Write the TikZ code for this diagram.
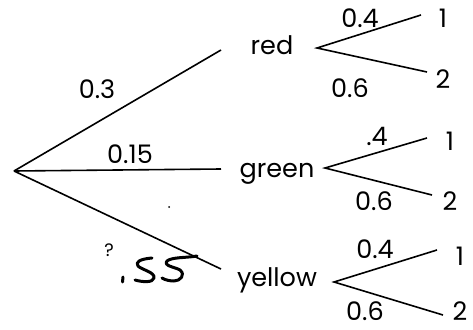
\documentclass[tikz,border=0pt]{standalone}
\usepackage{fontspec}
\setmainfont{Poppins}
\begin{document}
\begin{tikzpicture}[x=1pt,y=-1pt,
  br/.style={line width=1.6pt,black},
  lbl/.style={font=\fontsize{25.5}{25.5}\selectfont,inner sep=0pt,anchor=base},
  hand/.style={line width=3pt,line cap=round,line join=round}]
\useasboundingbox (0,0) rectangle (473,329);
% coordinates
\coordinate (root) at (14,171);
\coordinate (rE) at (221,50);
\coordinate (gE) at (221,169);
\coordinate (yE) at (221,269);
\coordinate (rV) at (317,48);
\coordinate (r1) at (421,15);
\coordinate (r2) at (427,72);
\coordinate (gV) at (325,168);
\coordinate (g1) at (427,138);
\coordinate (g2) at (432,195);
\coordinate (yV) at (334,282);
\coordinate (y1) at (437,250);
\coordinate (y2) at (443,315);
% branches
\draw[br] (root) -- (rE);
\draw[br] (root) -- (gE);
\draw[br] (root) -- (yE);
\draw[br] (r1) -- (rV) -- (r2);
\draw[br] (g1) -- (gV) -- (g2);
\draw[br] (y1) -- (yV) -- (y2);
% labels
\node[lbl] (tred) at (272,55) {red};
\node[lbl] (tgreen) at (277,177) {green};
\node[lbl] (tyellow) at (277,286) {yellow};
\node[lbl] (p03) at (97,98) {0.3};
\node[lbl] (p015) at (130,163) {0.15};
\node[lbl] (pr4) at (360,28) {0.4};
\node[lbl] (pr6) at (350,97) {0.6};
\node[lbl] (pg4) at (377,145) {.4};
\node[lbl] (pg6) at (374,210) {0.6};
\node[lbl] (py4) at (375,258) {0.4};
\node[lbl] (py6) at (365,320) {0.6};
\node[lbl] (r1t) at (443,28) {1};
\node[lbl] (r2t) at (443,88) {2};
\node[lbl] (g1t) at (450,150) {1};
\node[lbl] (g2t) at (450,210) {2};
\node[lbl] (y1t) at (460,265) {1};
\node[lbl] (y2t) at (460,320) {2};
% handwritten
\node[font=\fontsize{18}{18}\selectfont,inner sep=0pt] (qm) at (109,250) {?};
\fill (169,207) circle (1pt);
\draw[hand] (123,277) -- (122.5,282);
\draw[hand] (152,258) .. controls (140,259) and (135,262) .. (138,266)
  .. controls (142,270) and (155,272) .. (154,278)
  .. controls (153,283) and (142,282) .. (135,280);
\draw[hand] (197,256) .. controls (185,258) and (172,257) .. (167,261)
  .. controls (163,266) and (175,267) .. (180,270)
  .. controls (186,275) and (180,281) .. (174,281)
  .. controls (170,281) and (165,280) .. (162,278);
\end{tikzpicture}
\end{document}
